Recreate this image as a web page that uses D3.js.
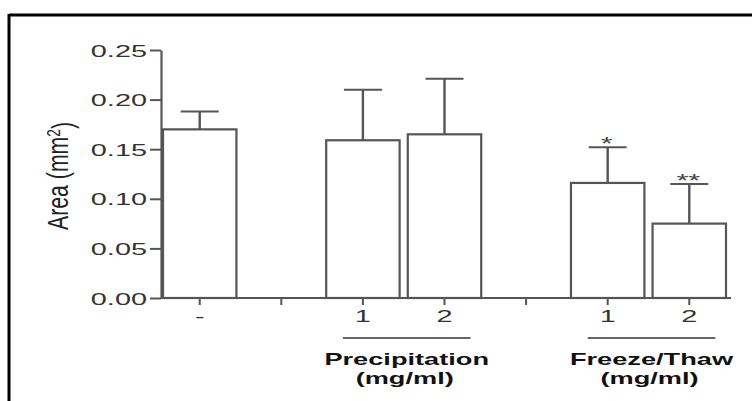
<!DOCTYPE html>
<html>
<head>
<meta charset="utf-8">
<script src="https://cdn.jsdelivr.net/npm/d3@7"></script>
<style>
  html, body { margin: 0; padding: 0; background: #fff; }
  svg { display: block; }
  text { font-family: 'Liberation Sans', Arial, sans-serif; fill: #333; }
</style>
</head>
<body>
<svg id="chart" width="753" height="401"></svg>
<script>
'use strict';

// Chart data
var slots = ['ctrl', 'gap1', 'p1', 'p2', 'gap2', 'f1', 'f2'];
var slotLabels = ['-', '', '1', '2', '', '1', '2'];
var barSlots = ['ctrl', 'p1', 'p2', 'f1', 'f2'];
var means = [0.170, 0.159, 0.165, 0.116, 0.075];
var sems = [0.018, 0.051, 0.056, 0.036, 0.040];
var marks = ['', '', '', '*', '**'];
var yTicks = [0, 0.05, 0.10, 0.15, 0.20, 0.25];
var groups = [
    { name: 'Precipitation', unit: '(mg/ml)', first: 'p1', last: 'p2' },
    { name: 'Freeze/Thaw', unit: '(mg/ml)', first: 'f1', last: 'f2' }
];

// The original picture is stretched sideways, so text is too
var SX = 1.7;
var STROKE = '#555';

var svg = d3.select('#chart');

// Frame (top and left edges only are visible)
svg.append('line')
    .attr('x1', 9).attr('x2', 752).attr('y1', 15).attr('y2', 15)
    .style('stroke', '#000').style('stroke-width', 3);
svg.append('line')
    .attr('x1', 9).attr('x2', 9).attr('y1', 14).attr('y2', 401)
    .style('stroke', '#000').style('stroke-width', 3);

// Scales
var x = d3.scaleBand()
    .domain(slots)
    .range([163, 726])
    .paddingInner(0.1)
    .paddingOuter(0);
var y = d3.scaleLinear()
    .domain([0, 0.25])
    .range([298, 50]);

var AXIS_X = 161;
var AXIS_END = 731;

function stretch(sel, tx, ty, rot) {
    sel.attr('transform', 'translate(' + tx + ',' + ty + ') scale(' + SX + ',1)' +
        (rot ? ' rotate(' + rot + ')' : ''));
}

// Bars
var bars = svg.append('g').attr('class', 'bars');
var data = barSlots.map(function (s, i) {
    return { slot: s, mean: means[i], sem: sems[i], mark: marks[i] };
});

bars.selectAll('line.err')
    .data(data).enter().append('line')
    .attr('class', 'err')
    .attr('x1', function (d) { return x(d.slot) + x.bandwidth() / 2; })
    .attr('x2', function (d) { return x(d.slot) + x.bandwidth() / 2; })
    .attr('y1', function (d) { return y(d.mean); })
    .attr('y2', function (d) { return y(d.mean + d.sem); })
    .style('stroke', STROKE).style('stroke-width', 2.4);

bars.selectAll('line.cap')
    .data(data).enter().append('line')
    .attr('class', 'cap')
    .attr('x1', function (d) { return x(d.slot) + x.bandwidth() / 2 - 19; })
    .attr('x2', function (d) { return x(d.slot) + x.bandwidth() / 2 + 19; })
    .attr('y1', function (d) { return y(d.mean + d.sem); })
    .attr('y2', function (d) { return y(d.mean + d.sem); })
    .style('stroke', STROKE).style('stroke-width', 2);

bars.selectAll('rect')
    .data(data).enter().append('rect')
    .attr('x', function (d) { return x(d.slot); })
    .attr('y', function (d) { return y(d.mean); })
    .attr('width', x.bandwidth())
    .attr('height', function (d) { return y(0) - y(d.mean); })
    .style('fill', '#fff')
    .style('stroke', STROKE)
    .style('stroke-width', 2.2);

// Significance stars
bars.selectAll('text.mark')
    .data(data.filter(function (d) { return d.mark; })).enter().append('text')
    .attr('class', 'mark')
    .attr('text-anchor', 'middle')
    .style('font-size', '18px')
    .style('fill', '#444')
    .text(function (d) { return d.mark; })
    .each(function (d) {
        stretch(d3.select(this), x(d.slot) + x.bandwidth() / 2 - 1, y(d.mean + d.sem) + 3);
    });

// Y axis
var yAxis = d3.axisLeft(y)
    .tickValues(yTicks)
    .tickSize(11)
    .tickSizeOuter(0)
    .tickFormat(d3.format('.2f'));
var yAxisG = svg.append('g')
    .attr('transform', 'translate(' + AXIS_X + ',0)')
    .call(yAxis);
yAxisG.select('.domain').style('stroke', STROKE).style('stroke-width', 2.2);
yAxisG.selectAll('.tick line').style('stroke', STROKE).style('stroke-width', 2);
yAxisG.selectAll('.tick text')
    .attr('x', 0).attr('dy', '0.36em')
    .style('font-size', '17px')
    .style('fill', '#333')
    .each(function () { stretch(d3.select(this), -14, 0); });

// X axis
var xAxis = d3.axisBottom(x)
    .tickSize(7)
    .tickSizeOuter(0)
    .tickFormat(function (d, i) { return slotLabels[i]; });
var xAxisG = svg.append('g')
    .attr('transform', 'translate(0,' + y(0) + ')')
    .call(xAxis);
xAxisG.select('.domain')
    .attr('d', 'M' + AXIS_X + ',0H' + AXIS_END)
    .style('stroke', STROKE).style('stroke-width', 2.2);
xAxisG.selectAll('.tick line').style('stroke', STROKE).style('stroke-width', 2);
xAxisG.selectAll('.tick text')
    .attr('y', 0).attr('dy', 0)
    .style('font-size', '17px')
    .style('fill', '#333')
    .each(function () { stretch(d3.select(this), 0, 24); });

// Group brackets and labels
groups.forEach(function (g) {
    var x1 = x(g.first) + x.bandwidth() / 2 - 20;
    var x2 = x(g.last) + x.bandwidth() / 2 + 26;
    var cx = (x1 + x2) / 2;
    svg.append('line')
        .attr('x1', x1).attr('x2', x2).attr('y1', 338).attr('y2', 338)
        .style('stroke', '#333').style('stroke-width', 1.6);
    var t1 = svg.append('text')
        .attr('text-anchor', 'middle')
        .style('font-size', '16px').style('font-weight', 'bold').style('fill', '#111')
        .text(g.name);
    stretch(t1, cx, 365);
    var t2 = svg.append('text')
        .attr('text-anchor', 'middle')
        .style('font-size', '16px').style('font-weight', 'bold').style('fill', '#111')
        .text(g.unit);
    stretch(t2, cx - 2, 384);
});

// Y axis title
var yTitle = svg.append('text')
    .attr('text-anchor', 'middle')
    .attr('textLength', 108)
    .attr('lengthAdjust', 'spacingAndGlyphs')
    .style('font-size', '17px')
    .style('fill', '#222');
yTitle.append('tspan').text('Area (mm');
yTitle.append('tspan').attr('dy', '-0.45em').style('font-size', '11px').text('2');
yTitle.append('tspan').attr('dy', '0.45em').text(')');
stretch(yTitle, 68, 176, -90);
</script>
</body>
</html>
